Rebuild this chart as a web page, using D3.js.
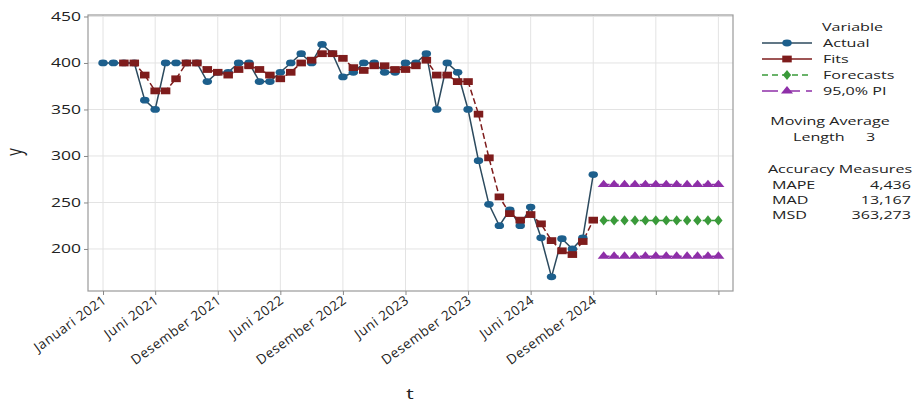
<!DOCTYPE html>
<html lang="en">
<head>
<meta charset="UTF-8">
<title>Moving Average Plot</title>
<style>
  body { margin: 0; background: #fff; }
  svg text { font-family: "Open Sans", "Noto Sans", sans-serif; fill: #222; }
</style>
</head>
<body>
<svg id="chart" width="914" height="403"></svg>
<script src="https://d3js.org/d3.v7.min.js"></script>
<script>
// monthly data, Januari 2021 .. Desember 2024
var actual = [400, 400, 400, 400, 360, 350, 400, 400, 400, 400, 380, 390,
              390, 400, 400, 380, 380, 390, 400, 410, 400, 420, 410, 385,
              390, 400, 400, 390, 390, 400, 400, 410, 350, 400, 390, 350,
              295, 248, 225, 242, 225, 245, 212, 170, 211, 200, 212, 280];
// moving average fits (length 3), first two periods have no fit
var fits = [null, null, 400, 400, 387, 370, 370, 383, 400, 400, 393, 390,
            387, 393, 397, 393, 387, 383, 390, 400, 403, 410, 410, 405,
            395, 392, 397, 397, 393, 393, 397, 403, 387, 387, 380, 380,
            345, 298, 256, 238, 231, 237, 227, 209, 198, 194, 208, 231];
// 12 forecast periods, Januari 2025 .. Desember 2025
var forecasts = [230.7, 230.7, 230.7, 230.7, 230.7, 230.7, 230.7, 230.7, 230.7, 230.7, 230.7, 230.7];
var upperPI = [269.2, 269.2, 269.2, 269.2, 269.2, 269.2, 269.2, 269.2, 269.2, 269.2, 269.2, 269.2];
var lowerPI = [192.2, 192.2, 192.2, 192.2, 192.2, 192.2, 192.2, 192.2, 192.2, 192.2, 192.2, 192.2];

var xTickIndex = [0, 5, 11, 17, 23, 29, 35, 41, 47, 53, 59];
var xTickLabels = ["Januari 2021", "Juni 2021", "Desember 2021", "Juni 2022", "Desember 2022",
                   "Juni 2023", "Desember 2023", "Juni 2024", "Desember 2024", "", ""];
var yTicks = [200, 250, 300, 350, 400, 450];

var legendItems = ["Actual", "Fits", "Forecasts", "95,0% PI"];
var accuracyNames = ["MAPE", "MAD", "MSD"];
var accuracyValues = ["4,436", "13,167", "363,273"];

var colActual = "#1d5f8c", colActualLine = "#2c4a5e", colFits = "#7e1c1c",
    colFc = "#3a9a3a", colPI = "#8e2fa8";

// the original picture is stretched sideways, text and markers follow that
var SX = 1.4;

var plot = { left: 88, right: 733, top: 15, bottom: 291 };
var svg = d3.select("#chart");

var x = d3.scaleLinear().domain([-1.44, 60.4]).range([plot.left, plot.right]);
var y = d3.scaleLinear().domain([154.8, 451.6]).range([plot.bottom, plot.top]);

function label(px, py, str, size, anchor) {
  return svg.append("text")
    .attr("transform", "translate(" + px + "," + py + ") scale(" + SX + ",1)")
    .attr("text-anchor", anchor || "start")
    .style("font-size", size + "px")
    .text(str);
}

// gridlines
svg.append("g").selectAll("line").data(xTickIndex).enter().append("line")
   .attr("x1", d => x(d)).attr("x2", d => x(d))
   .attr("y1", plot.top).attr("y2", plot.bottom)
   .attr("stroke", "#e3e3e3").attr("stroke-width", 1);
svg.append("g").selectAll("line").data(yTicks).enter().append("line")
   .attr("x1", plot.left).attr("x2", plot.right)
   .attr("y1", d => y(d)).attr("y2", d => y(d))
   .attr("stroke", "#e3e3e3").attr("stroke-width", 1);

// frame
svg.append("rect")
   .attr("x", plot.left).attr("y", plot.top)
   .attr("width", plot.right - plot.left).attr("height", plot.bottom - plot.top)
   .attr("fill", "none").attr("stroke", "#9a9a9a").attr("stroke-width", 1.2);

// axes
var yAxis = svg.append("g")
   .attr("transform", "translate(" + plot.left + ",0)")
   .call(d3.axisLeft(y).tickValues(yTicks).tickSize(4).tickFormat(""));
yAxis.select(".domain").remove();
yAxis.selectAll("line").attr("stroke", "#888");
yTicks.forEach(function(v) {
  label(81, y(v), v, 12.5, "end").attr("dy", "0.35em").attr("fill", "#333");
});

var xAxis = svg.append("g")
   .attr("transform", "translate(0," + plot.bottom + ")")
   .call(d3.axisBottom(x).tickValues(xTickIndex).tickSize(4)
         .tickFormat((d, i) => xTickLabels[i]));
xAxis.select(".domain").remove();
xAxis.selectAll("line").attr("stroke", "#888");
xAxis.selectAll("text")
   .style("font-size", "13.5px").style("letter-spacing", "0.6px").attr("fill", "#333")
   .attr("text-anchor", "end")
   .attr("y", 0).attr("dy", 0)
   .attr("transform", "translate(4,11) rotate(-36)");

// axis titles
svg.append("text").attr("transform", "translate(22,152) rotate(-90) scale(1,1.4)")
   .attr("text-anchor", "middle").style("font-size", "15px").text("y");
label(410, 399, "t", 15, "middle");

// series lines
var line = d3.line().defined(d => d != null).x((d, i) => x(i)).y(d => y(d));
var lineFc = d3.line().x((d, i) => x(48 + i)).y(d => y(d));

svg.append("path").datum(actual).attr("d", line)
   .attr("fill", "none").attr("stroke", colActualLine).attr("stroke-width", 1.5);
svg.append("path").datum(fits).attr("d", line)
   .attr("fill", "none").attr("stroke", colFits).attr("stroke-width", 1.5)
   .attr("stroke-dasharray", "6,3");
[upperPI, lowerPI].forEach(function(arr) {
  svg.append("path").datum(arr).attr("d", lineFc)
     .attr("fill", "none").attr("stroke", colPI).attr("stroke-width", 1.5)
     .attr("stroke-dasharray", "6,3");
});
svg.append("path").datum(forecasts).attr("d", lineFc)
   .attr("fill", "none").attr("stroke", colFc).attr("stroke-width", 1.5)
   .attr("stroke-dasharray", "6,3");

// markers
var circle = d3.symbol().type(d3.symbolCircle).size(36);
var square = d3.symbol().type(d3.symbolSquare).size(46);
var diamond = d3.symbol().type(d3.symbolDiamond).size(30);
var triangle = d3.symbol().type(d3.symbolTriangle).size(32);
function at(px, py) { return "translate(" + px + "," + py + ") scale(" + SX + ",1)"; }

svg.append("g").selectAll("path").data(actual).enter().append("path")
   .attr("d", circle).attr("fill", colActual)
   .attr("transform", (d, i) => at(x(i), y(d)));
svg.append("g").selectAll("path").data(fits.map((d, i) => [i, d]).filter(p => p[1] != null))
   .enter().append("path")
   .attr("d", square).attr("fill", colFits)
   .attr("transform", p => at(x(p[0]), y(p[1])));
[upperPI, lowerPI].forEach(function(arr) {
  svg.append("g").selectAll("path").data(arr).enter().append("path")
     .attr("d", triangle).attr("fill", colPI)
     .attr("transform", (d, i) => at(x(48 + i), y(d)));
});
svg.append("g").selectAll("path").data(forecasts).enter().append("path")
   .attr("d", diamond).attr("fill", colFc)
   .attr("transform", (d, i) => at(x(48 + i), y(d)));

// legend
label(822, 31, "Variable", 11.5);
var styles = [
  { c: colActual, lc: colActualLine, dash: null, sym: circle },
  { c: colFits, lc: colFits, dash: null, sym: square },
  { c: colFc, lc: colFc, dash: "6,4", sym: diamond },
  { c: colPI, lc: colPI, dash: "16,6", sym: triangle }
];
legendItems.forEach(function(name, i) {
  var yy = 43 + i * 16;
  var s = styles[i];
  svg.append("line").attr("x1", 762).attr("x2", 812).attr("y1", yy).attr("y2", yy)
    .attr("stroke", s.lc).attr("stroke-width", 1.5)
    .attr("stroke-dasharray", s.dash);
  svg.append("path").attr("d", s.sym).attr("fill", s.c)
    .attr("transform", at(787, yy));
  label(823, yy + 4, name, 11.5);
});

label(830, 125, "Moving Average", 11.5, "middle");
label(793, 141, "Length", 11.5);
label(866, 141, "3", 11.5);

label(840, 173, "Accuracy Measures", 11.5, "middle");
accuracyNames.forEach(function(name, i) {
  var yy = 189 + i * 15;
  label(772, yy, name, 11.5);
  label(911, yy, accuracyValues[i], 11.5, "end");
});
</script>
</body>
</html>
